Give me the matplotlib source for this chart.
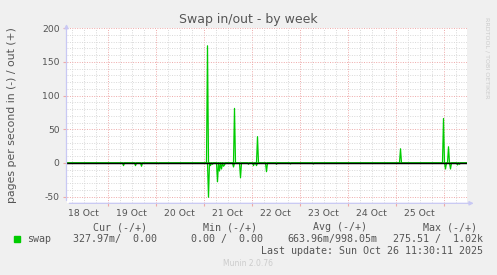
import numpy as np
import pandas as pd
import matplotlib
matplotlib.use("Agg")
import matplotlib.pyplot as plt
import matplotlib.dates as mdates
from matplotlib.patches import Rectangle

# swap in (drawn below zero) and swap out (above zero), pages per second
swap_in_times = ["2025-10-19 08:00", "2025-10-19 14:00", "2025-10-19 17:00", "2025-10-20 01:30",
                 "2025-10-21 02:30", "2025-10-21 03:30", "2025-10-21 04:30", "2025-10-21 07:00",
                 "2025-10-21 08:00", "2025-10-21 09:00", "2025-10-21 10:00", "2025-10-21 10:30",
                 "2025-10-21 15:00", "2025-10-21 18:30", "2025-10-21 22:30", "2025-10-22 01:00",
                 "2025-10-22 02:30", "2025-10-22 07:30", "2025-10-22 12:30", "2025-10-22 19:30",
                 "2025-10-23 07:00", "2025-10-26 01:00", "2025-10-26 03:30", "2025-10-26 07:00",
                 "2025-10-26 08:00"]
swap_in_vals = [4, 4, 5, 1, 51, 4, 2, 28, 12, 9, 5, 3, 6, 22, 2, 4, 4, 13, 2, 1.5, 1.5, 9, 9, 3, 2]

swap_out_times = ["2025-10-21 02:00", "2025-10-21 15:30", "2025-10-22 03:00",
                  "2025-10-25 02:30", "2025-10-26 00:00", "2025-10-26 02:30"]
swap_out_vals = [174, 81, 39, 21, 66, 24]

day_labels = ["18 Oct", "19 Oct", "20 Oct", "21 Oct", "22 Oct", "23 Oct", "24 Oct", "25 Oct"]
legend_cols = ["Cur (-/+)", "Min (-/+)", "Avg (-/+)", "Max (-/+)"]
legend_vals = ["327.97m/  0.00", "0.00 /  0.00", "663.96m/998.05m", "275.51 /  1.02k"]

start, end = pd.Timestamp("2025-10-18 03:30"), pd.Timestamp("2025-10-26 11:30")
steps = pd.date_range(start, end, freq="30min")
s_in = pd.Series(0.0, index=steps)
s_in[pd.to_datetime(swap_in_times)] = swap_in_vals
s_out = pd.Series(0.0, index=steps)
s_out[pd.to_datetime(swap_out_times)] = swap_out_vals

bg = "#f0f0f0"
txt = "#555555"
minor_c = "#d8d8d8"
major_c = "#eea8a8"
axis_c = "#c8c8f4"
green = "#00cc00"

fig = plt.figure(figsize=(4.97, 2.75), dpi=100, facecolor=bg)
ax = fig.add_axes([66.5 / 497, 1 - 203.3 / 275, 400 / 497, 175 / 275])
ax.set_facecolor("white")

ax.set_xlim(start, end)
ax.set_ylim(-60, 200)

# grid: gray every 6h / 10 units, red every midnight / 50 units
for t in pd.date_range("2025-10-18 06:00", end, freq="6h"):
    c = major_c if t.hour == 0 else minor_c
    ax.axvline(t, color=c, lw=0.7, ls=(0, (1, 1.5)), zorder=1)
for v in range(-60, 201, 10):
    c = major_c if v % 50 == 0 else minor_c
    ax.axhline(v, color=c, lw=0.7, ls=(0, (1, 1.5)), zorder=1)

ax.plot(s_out.index, s_out.values, color=green, lw=0.9, zorder=3)
ax.plot(s_in.index, -s_in.values, color=green, lw=0.9, zorder=3)
ax.axhline(0, color="black", lw=1.05, zorder=4)

for sp in ax.spines.values():
    sp.set_visible(False)

noons = pd.date_range("2025-10-18 12:00", periods=len(day_labels), freq="D")
ax.set_xticks(noons)
ax.set_xticklabels(day_labels)
ax.set_xticks(pd.date_range("2025-10-19", periods=8, freq="D"), minor=True)
ax.tick_params(axis="x", which="major", length=0, pad=4, labelsize=6.7, labelcolor=txt)
ax.tick_params(axis="x", which="minor", length=2, color=major_c, width=0.8)
ax.set_yticks([-50, 0, 50, 100, 150, 200])
ax.set_yticklabels(["-50", "0", "50", "100", "150", "200"])
ax.tick_params(axis="y", length=3, color=major_c, width=0.8, pad=2, labelsize=6.7, labelcolor=txt)

# axis lines with arrows
ax.annotate("", xy=(0, 1.04), xytext=(0, 0), xycoords="axes fraction",
            arrowprops=dict(arrowstyle="-|>", color=axis_c, lw=0.9, mutation_scale=6), zorder=5)
ax.annotate("", xy=(1.025, 0), xytext=(0, 0), xycoords="axes fraction",
            arrowprops=dict(arrowstyle="-|>", color=axis_c, lw=0.9, mutation_scale=6), zorder=5)

fig.text(248.5 / 497, 1 - 19 / 275, "Swap in/out - by week", ha="center", va="center",
         fontsize=9, color=txt)
fig.text(12 / 497, 1 - 115 / 275, "pages per second in (-) / out (+)", rotation=90,
         ha="center", va="center", fontsize=7.8, color=txt)
fig.text(487 / 497, 1 - 58 / 275, "RRDTOOL / TOBI OETIKER", rotation=270,
         ha="center", va="center", fontsize=4.6, color="#cccccc")

mono = "DejaVu Sans Mono"
col_right = [147, 257, 367, 477]
val_right = [157, 263, 377, 483]
for x, s in zip(col_right, legend_cols):
    fig.text(x / 497, 1 - 227 / 275, s, ha="right", va="center", fontsize=7.2,
             family=mono, color=txt)
for x, s in zip(val_right, legend_vals):
    fig.text(x / 497, 1 - 239 / 275, s, ha="right", va="center", fontsize=7.2,
             family=mono, color=txt)
fig.patches.append(Rectangle((14 / 497, 1 - 242 / 275), 6 / 497, 6 / 275,
                             transform=fig.transFigure, color=green))
fig.text(27 / 497, 1 - 239 / 275, "swap", ha="left", va="center", fontsize=7.2,
         family=mono, color=txt)
fig.text(483 / 497, 1 - 251 / 275, "Last update: Sun Oct 26 11:30:11 2025", ha="right",
         va="center", fontsize=7.2, family=mono, color=txt)
fig.text(248 / 497, 1 - 264 / 275, "Munin 2.0.76", ha="center", va="center",
         fontsize=5.5, color="#cccccc")

fig.savefig("out.png", dpi=100, facecolor=bg)
